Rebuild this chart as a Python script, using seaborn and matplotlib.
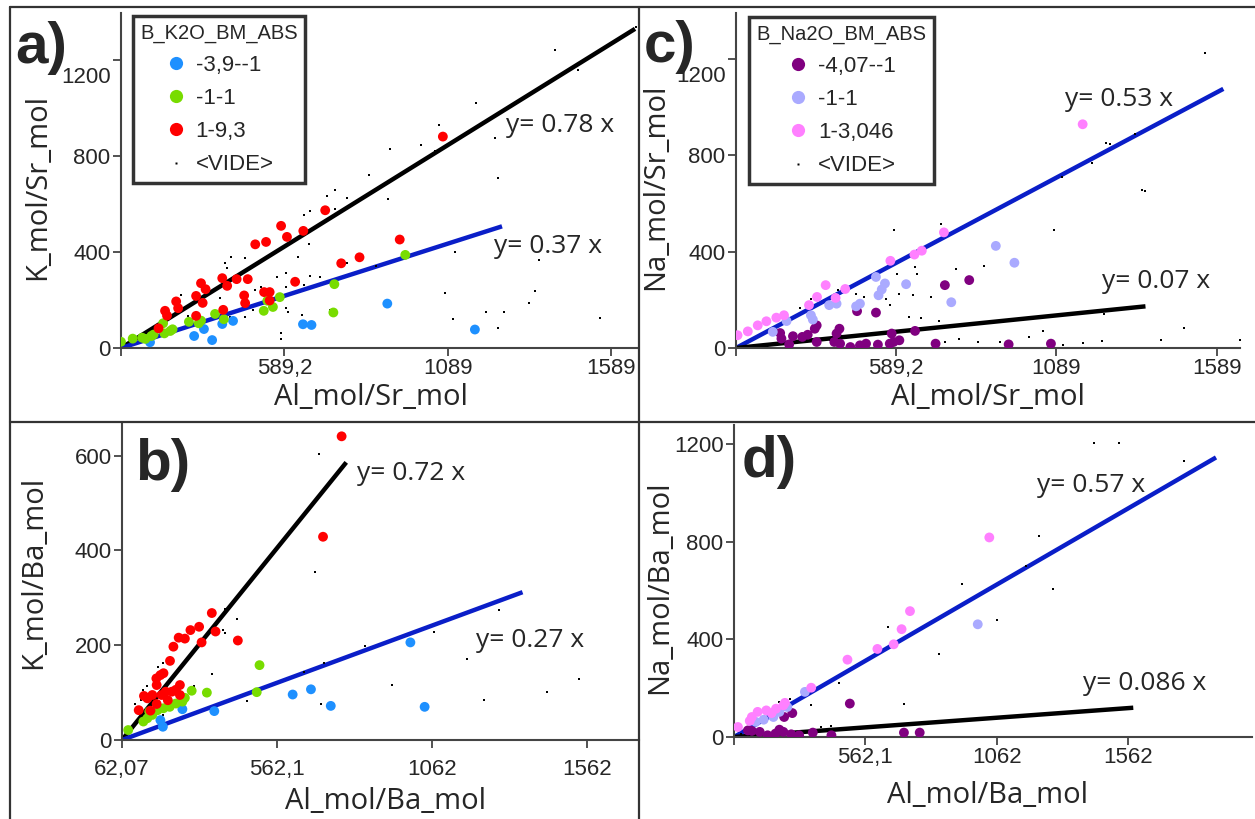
import matplotlib
matplotlib.use('Agg')
import pandas as pd
import matplotlib.pyplot as plt
import matplotlib.transforms as mtransforms
import seaborn as sns
from matplotlib.lines import Line2D

# ---------------- data ----------------
# a) K_mol/Sr_mol vs Al_mol/Sr_mol, classes of B_K2O_BM_ABS
a_blue_x = [178, 313, 343, 368, 399, 432, 646, 672, 904, 1172]
a_blue_y = [24, 50, 79, 33, 100, 113, 99, 96, 185, 77]
a_green_x = [89, 125, 154, 164, 182, 189, 218, 222, 240, 247, 297, 327, 334, 377, 404,
             526, 537, 554, 575, 742, 739, 959]
a_green_y = [26, 39, 43, 38, 50, 56, 103, 61, 71, 78, 109, 103, 114, 142, 120,
             155, 197, 171, 212, 266, 148, 388]
a_red_x = [1074, 714, 579, 647, 597, 500, 533, 942, 819, 763, 622, 399, 443, 477, 414, 334,
           348, 319, 339, 258, 264, 224, 230, 204, 402, 319, 466, 469, 527, 544, 544]
a_red_y = [881, 574, 509, 488, 463, 432, 442, 452, 378, 353, 276, 291, 287, 287, 259, 270,
           245, 217, 188, 194, 166, 155, 135, 82, 159, 134, 219, 187, 233, 233, 198]
a_vide_x = [1665, 1418, 1486, 1174, 1062, 1234, 912, 1006, 1049, 1243, 848, 905, 743, 718, 780,
            668, 649, 743, 630, 664, 1112, 1368, 868, 427, 468, 408, 414, 568, 593, 668, 699,
            649, 518, 499, 593, 599, 643, 730, 1080, 1355, 1337, 1205, 1262, 1105, 1243, 1555,
            468, 580, 580, 274, 243, 233, 393, 424, 293, 780, 593, 493]
a_vide_y = [1337, 1243, 1158, 1020, 928, 877, 831, 845, 821, 707, 723, 619, 658, 633, 623,
            570, 556, 581, 379, 434, 399, 368, 340, 379, 375, 354, 333, 294, 312, 298, 294,
            262, 256, 243, 166, 152, 138, 159, 229, 238, 187, 149, 152, 120, 82, 127,
            128, 61, 38, 222, 89, 61, 208, 131, 134, 354, 256, 159]

# b) K_mol/Ba_mol vs Al_mol/Ba_mol
b_blue_x = [993, 672, 613, 736, 1039, 360, 257, 186, 194]
b_blue_y = [206, 107, 96, 72, 70, 61, 65, 42, 28]
b_green_x = [506, 497, 336, 287, 265, 257, 236, 216, 196, 177, 160, 144, 131, 82, 150]
b_green_y = [158, 101, 100, 104, 89, 81, 77, 70, 67, 63, 53, 46, 39, 21, 60]
b_red_x = [771, 711, 352, 311, 283, 265, 245, 228, 217, 319, 364, 436, 196, 186, 173, 174,
           160, 133, 144, 190, 203, 223, 249, 236, 210, 249, 174, 116, 154]
b_red_y = [641, 429, 268, 239, 232, 214, 216, 197, 167, 206, 229, 210, 141, 137, 130, 116,
           95, 93, 88, 95, 102, 102, 116, 106, 84, 95, 76, 63, 62]
b_vide_x = [697, 686, 393, 433, 387, 394, 354, 295, 466, 705, 648, 714, 848, 934, 1068, 1175,
            1230, 1279, 1434, 1536, 328, 104, 124, 177, 170, 144, 131, 196, 210, 196]
b_vide_y = [603, 354, 276, 256, 232, 225, 139, 114, 82, 77, 144, 163, 199, 116, 227, 170,
            84, 275, 101, 128, 95, 76, 84, 155, 134, 113, 106, 162, 70, 53]

# c) Na_mol/Sr_mol vs Al_mol/Sr_mol, classes of B_Na2O_BM_ABS
c_purple_x = [817, 741, 526, 467, 648, 575, 599, 581, 569, 532, 495, 476, 446, 414, 396, 412,
              403, 341, 335, 313, 296, 267, 255, 227, 231, 712, 940, 1072, 341]
c_purple_y = [282, 261, 147, 153, 71, 60, 32, 25, 18, 14, 18, 11, 4, 18, 25, 80,
              60, 94, 80, 55, 46, 49, 15, 62, 39, 18, 15, 18, 25]
c_lav_x = [900, 958, 761, 620, 554, 544, 534, 526, 476, 464, 403, 380, 323, 329, 247, 204]
c_lav_y = [424, 354, 190, 265, 268, 243, 219, 295, 184, 173, 184, 178, 136, 118, 112, 67]
c_pink_x = [1171, 738, 669, 646, 571, 430, 400, 369, 342, 317, 239, 215, 184, 157, 126, 94]
c_pink_y = [929, 480, 404, 388, 362, 245, 208, 261, 212, 178, 136, 126, 111, 94, 69, 53]
c_vide_x = [1552, 1355, 1364, 1201, 1107, 1245, 1257, 1333, 1081, 728, 581, 863, 777, 648, 655,
            593, 599, 642, 698, 630, 667, 556, 569, 489, 464, 323, 288, 406, 237, 1238, 1487,
            1414, 1232, 1171, 1109, 1048, 1005, 913, 845, 784, 741, 722, 384, 1662]
c_vide_y = [1225, 656, 653, 767, 709, 850, 846, 889, 490, 513, 490, 340, 330, 337, 307,
            307, 226, 219, 212, 129, 126, 205, 178, 212, 226, 205, 168, 240, 143, 143, 83,
            32, 29, 22, 11, 69, 46, 25, 25, 39, 25, 111, 35, 32]

# d) Na_mol/Ba_mol vs Al_mol/Ba_mol
d_purple_x = [503, 284, 253, 362, 433, 709, 769, 310, 280, 250, 220, 190, 160, 130, 115, 235]
d_purple_y = [137, 98, 82, 18, 7, 18, 18, 7, 11, 21, 14, 7, 21, 25, 27, 30]
d_lav_x = [990, 332, 265, 235, 212, 175, 145]
d_lav_y = [462, 185, 123, 103, 82, 71, 62]
d_pink_x = [1034, 732, 700, 670, 608, 494, 356, 256, 250, 222, 185, 152, 130, 122, 77, 205]
d_pink_y = [818, 516, 442, 380, 361, 317, 202, 140, 130, 116, 109, 103, 82, 66, 41, 98]
d_vide_x = [1432, 1529, 1777, 1225, 1172, 1277, 929, 1064, 844, 647, 703, 709, 460, 355, 275,
            235, 190, 122, 392, 430, 87]
d_vide_y = [1204, 1204, 1131, 825, 702, 606, 629, 479, 342, 451, 442, 137, 222, 130, 157,
            144, 103, 68, 41, 44, 14]

# fitted lines (end points)
a_fit_black_x, a_fit_black_y = [89.2, 1662], [0, 1330]
a_fit_blue_x, a_fit_blue_y = [89.2, 1255], [0, 507]
b_fit_black_x, b_fit_black_y = [62.07, 786], [0, 586]
b_fit_blue_x, b_fit_blue_y = [62.07, 1355], [0, 312]
c_fit_blue_x, c_fit_blue_y = [89.2, 1610], [0, 1076]
c_fit_black_x, c_fit_black_y = [89.2, 1367], [0, 173]
d_fit_blue_x, d_fit_blue_y = [62.07, 1897], [0, 1146]
d_fit_black_x, d_fit_black_y = [62.07, 1582], [0, 120]

k_classes = ['-3,9--1', '-1-1', '1-9,3']
na_classes = ['-4,07--1', '-1-1', '1-3,046']
k_colors = ['#1e90ff', '#78dc00', '#ff0000']
na_colors = ['#800080', '#aaaaff', '#ff80ff']

sr_ticks = [89.2, 589.2, 1089, 1589]
ba_ticks = [62.07, 562.1, 1062, 1562]

# ---------------- layout ----------------
W, H = 1255, 819
TICK_FONT = ['Liberation Sans', 'DejaVu Sans']
LABEL_FONT = ['Open Sans', 'DejaVu Sans']
LETTER_FONT = ['Liberation Sans', 'DejaVu Sans']

sns.set_style('ticks')
plt.rcParams['font.family'] = TICK_FONT

fig = plt.figure(figsize=(W / 100, H / 100), dpi=100)


def px_axes(left, top, right, bottom):
    return fig.add_axes([left / W, 1 - bottom / H, (right - left) / W, (bottom - top) / H])


def make_df(xs, ys, classes):
    frames = []
    for x, y, c in zip(xs, ys, classes):
        frames.append(pd.DataFrame({'x': x, 'y': y, 'cls': c}))
    return pd.concat(frames, ignore_index=True)


def draw_panel(ax, df, classes, colors, vide_x, vide_y, fits, notes,
               xlim, ylim, xticks, xlabels, yticks, xlabel, ylabel, xl_pos, yl_pos,
               drop_top_label=False, xpad=1.5):
    for fx, fy, col in fits:
        ax.plot(fx, fy, color=col, lw=3.2, solid_capstyle='butt', zorder=2)
    sns.scatterplot(x=vide_x, y=vide_y, color='black', marker='s', s=3, linewidth=0,
                    ax=ax, zorder=3)
    sns.scatterplot(data=df, x='x', y='y', hue='cls', hue_order=classes, palette=colors,
                    s=50, linewidth=0, legend=False, ax=ax, zorder=4)
    for txt, (tx, ty) in notes:
        ax.text(tx, ty, txt, ha='left', va='center', fontsize=19, family=LABEL_FONT)
    ax.set_xlim(*xlim)
    ax.set_ylim(*ylim)
    ax.set_xticks(xticks)
    ax.set_xticklabels(xlabels)
    ax.set_yticks(yticks)
    ax.tick_params(length=6, width=1.3, color='#444444', labelsize=16, pad=1.5)
    ax.tick_params(axis='x', pad=xpad)
    for s in ['top', 'right']:
        ax.spines[s].set_visible(False)
    for s in ['left', 'bottom']:
        ax.spines[s].set_color('#444444')
        ax.spines[s].set_linewidth(1.5)
    ax.set_xlabel(xlabel, fontsize=21, family=LABEL_FONT)
    ax.set_ylabel(ylabel, fontsize=21, family=LABEL_FONT)
    ax.xaxis.set_label_coords(*xl_pos)
    ax.yaxis.set_label_coords(*yl_pos)
    if drop_top_label:
        # the top y label sits just under its tick, clear of the panel letter
        lab = ax.get_yticklabels()[-1]
        lab.set_transform(lab.get_transform() +
                          mtransforms.ScaledTranslation(0, -0.15, fig.dpi_scale_trans))


def add_legend(ax, title, classes, colors, left, top):
    handles = [Line2D([], [], ls='', marker='o', ms=9.5, mec='none', mfc=c, label=l)
               for l, c in zip(classes, colors)]
    handles.append(Line2D([], [], ls='', marker='s', ms=1.6, mec='none', mfc='black',
                          label='<VIDE>'))
    leg = ax.legend(handles=handles, title=title, loc='upper left',
                    bbox_to_anchor=(left / W, 1 - top / H), bbox_transform=fig.transFigure,
                    borderaxespad=0, fontsize=16, title_fontsize=14.5, frameon=True,
                    fancybox=False, edgecolor='black', handlelength=1.0,
                    handletextpad=0.4, labelspacing=0.55, borderpad=0.33,
                    alignment='center')
    leg.get_frame().set_linewidth(2.5)
    leg.set_zorder(10)


ax_a = px_axes(121, 13, 637, 348)
ax_c = px_axes(736, 13, 1240, 348)
ax_b = px_axes(122, 424, 639, 740)
ax_d = px_axes(734, 425, 1252, 737)

df_a = make_df([a_blue_x, a_green_x, a_red_x], [a_blue_y, a_green_y, a_red_y], k_classes)
df_b = make_df([b_blue_x, b_green_x, b_red_x], [b_blue_y, b_green_y, b_red_y], k_classes)
df_c = make_df([c_purple_x, c_lav_x, c_pink_x], [c_purple_y, c_lav_y, c_pink_y], na_classes)
df_d = make_df([d_purple_x, d_lav_x, d_pink_x], [d_purple_y, d_lav_y, d_pink_y], na_classes)

BLUE = '#0a1ec8'

draw_panel(ax_a, df_a, k_classes, k_colors, a_vide_x, a_vide_y,
           [(a_fit_black_x, a_fit_black_y, 'black'), (a_fit_blue_x, a_fit_blue_y, BLUE)],
           [('y= 0.78 x', (1268, 926)), ('y= 0.37 x', (1230, 424))],
           (89.2, 1668), (0, 1396), sr_ticks, ['', '589,2', '1089', '1589'],
           [0, 400, 800, 1200], 'Al_mol/Sr_mol', 'K_mol/Sr_mol',
           (0.484, -0.105), (-0.134, 0.48), drop_top_label=True)

draw_panel(ax_b, df_b, k_classes, k_colors, b_vide_x, b_vide_y,
           [(b_fit_black_x, b_fit_black_y, 'black'), (b_fit_blue_x, b_fit_blue_y, BLUE)],
           [('y= 0.72 x', (822, 562)), ('y= 0.27 x', (1204, 211))],
           (62.07, 1731), (0, 667), ba_ticks, ['62,07', '562,1', '1062', '1562'],
           [0, 200, 400, 600], 'Al_mol/Ba_mol', 'K_mol/Ba_mol',
           (0.509, -0.15), (-0.143, 0.53), xpad=8)

draw_panel(ax_c, df_c, na_classes, na_colors, c_vide_x, c_vide_y,
           [(c_fit_blue_x, c_fit_blue_y, BLUE), (c_fit_black_x, c_fit_black_y, 'black')],
           [('y= 0.53 x', (1115, 1031)), ('y= 0.07 x', (1232, 275))],
           (89.2, 1662), (0, 1391), sr_ticks, ['', '589,2', '1089', '1589'],
           [0, 400, 800, 1200], 'Al_mol/Sr_mol', 'Na_mol/Sr_mol',
           (0.5, -0.105), (-0.131, 0.48), drop_top_label=True)

draw_panel(ax_d, df_d, na_classes, na_colors, d_vide_x, d_vide_y,
           [(d_fit_blue_x, d_fit_blue_y, BLUE), (d_fit_black_x, d_fit_black_y, 'black')],
           [('y= 0.57 x', (1217, 1033)), ('y= 0.086 x', (1389, 219))],
           (62.07, 2034), (0, 1279), ba_ticks, ['', '562,1', '1062', '1562'],
           [0, 400, 800, 1200], 'Al_mol/Ba_mol', 'Na_mol/Ba_mol',
           (0.49, -0.14), (-0.116, 0.48))

add_legend(ax_a, 'B_K2O_BM_ABS', k_classes, k_colors, 133, 16)
add_legend(ax_c, 'B_Na2O_BM_ABS', na_classes, na_colors, 749, 17)

# panel letters
for letter, (lx, ly) in [('a)', (15, 63)), ('c)', (644, 62)), ('b)', (135, 480)), ('d)', (742, 477))]:
    fig.text(lx / W, 1 - ly / H, letter, ha='left', va='baseline', fontsize=42,
             fontweight='bold', family=LETTER_FONT)

# panel frame lines
frame_kw = dict(color='#333333', lw=1.6, transform=fig.transFigure)
fig.add_artist(Line2D([10 / W, 10 / W], [0, 1 - 7 / H], **frame_kw))
fig.add_artist(Line2D([10 / W, 1], [1 - 7 / H, 1 - 7 / H], **frame_kw))
fig.add_artist(Line2D([639 / W, 639 / W], [0, 1 - 7 / H], **frame_kw))
fig.add_artist(Line2D([10 / W, 1], [1 - 422 / H, 1 - 422 / H], **frame_kw))

fig.savefig('out.png', dpi=100)
